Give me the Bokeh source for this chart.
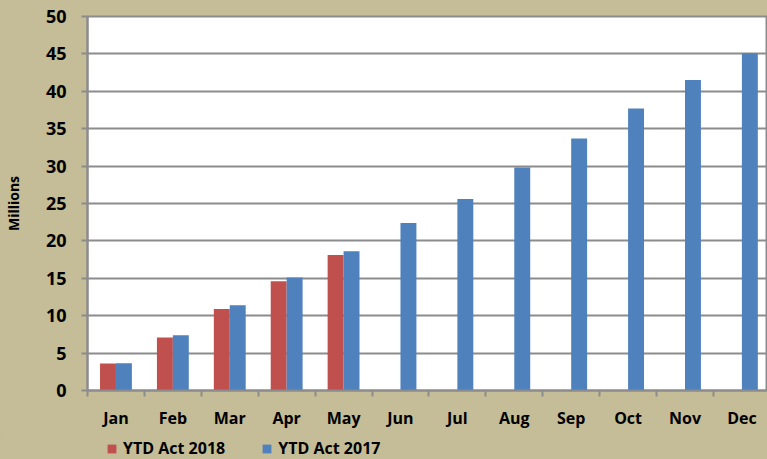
import numpy as np
from bokeh.plotting import figure
from bokeh.layouts import column
from bokeh.models import (Range1d, FixedTicker, Legend, LegendItem, ColumnDataSource)
from bokeh.embed import file_html
from bokeh.resources import INLINE

# ---- data ----
months = ["Jan", "Feb", "Mar", "Apr", "May", "Jun", "Jul", "Aug", "Sep", "Oct", "Nov", "Dec"]
ytd_2018 = [3.6, 7.1, 10.9, 14.6, 18.1]
ytd_2017 = [3.65, 7.4, 11.4, 15.1, 18.6, 22.4, 25.6, 29.8, 33.7, 37.7, 41.5, 45.1]
y_ticks = [0, 5, 10, 15, 20, 25, 30, 35, 40, 45, 50]
series_names = ["YTD Act 2018", "YTD Act 2017"]

BG = "#C4BD97"
RED = "#C0504D"
BLUE = "#4F81BD"
GRID = "#8C8C8C"
FONT = "Open Sans"

centers = [i + 0.5 for i in range(len(months))]
bounds = list(range(len(months) + 1))
bar_w = 0.28

src18 = ColumnDataSource(dict(x=[c - bar_w / 2 for c in centers[:len(ytd_2018)]], top=ytd_2018))
src17 = ColumnDataSource(dict(x=[c + bar_w / 2 for c in centers], top=ytd_2017))

# ---- main chart ----
p = figure(width=767, height=437, output_backend="svg", toolbar_location=None,
           x_range=Range1d(0, len(months) - 0.05), y_range=Range1d(y_ticks[0], y_ticks[-1]),
           min_border_left=86, min_border_right=0, min_border_top=16, min_border_bottom=47)

p.border_fill_color = BG
p.background_fill_color = "white"
p.outline_line_color = GRID
p.outline_line_width = 2

r18 = p.vbar(x="x", top="top", width=bar_w, source=src18, fill_color=RED, line_color=None)
r17 = p.vbar(x="x", top="top", width=bar_w, source=src17, fill_color=BLUE, line_color=None)

p.xgrid.visible = False
p.ygrid.ticker = FixedTicker(ticks=y_ticks)
p.ygrid.grid_line_color = GRID
p.ygrid.grid_line_width = 2

ya = p.yaxis[0]
ya.ticker = FixedTicker(ticks=y_ticks)
ya.axis_line_color = GRID
ya.axis_line_width = 2
ya.major_tick_line_color = GRID
ya.major_tick_line_width = 2
ya.major_tick_out = 6
ya.major_tick_in = 0
ya.minor_tick_line_color = None
ya.major_label_standoff = 15
ya.major_label_text_font = FONT
ya.major_label_text_font_style = "bold"
ya.major_label_text_font_size = "18px"
ya.major_label_text_color = "black"
ya.axis_label = "Millions"
ya.axis_label_text_font = FONT
ya.axis_label_text_font_style = "bold"
ya.axis_label_text_font_size = "14px"
ya.axis_label_text_color = "black"
ya.axis_label_standoff = 20

xa = p.xaxis[0]
xa.ticker = FixedTicker(ticks=centers, minor_ticks=bounds)
xa.major_label_overrides = {c: m for c, m in zip(centers, months)}
xa.axis_line_color = GRID
xa.axis_line_width = 2
xa.major_tick_line_color = None
xa.major_tick_out = 5
xa.major_tick_in = 0
xa.minor_tick_line_color = GRID
xa.minor_tick_line_width = 2
xa.minor_tick_out = 6
xa.minor_tick_in = 0
xa.major_label_standoff = 10
xa.major_label_text_font = FONT
xa.major_label_text_font_style = "bold"
xa.major_label_text_font_size = "16px"
xa.major_label_text_color = "black"

# ---- legend strip under the chart (same series, renderers hidden; only legend shown) ----
lp = figure(width=767, height=22, output_backend="svg", toolbar_location=None,
            x_range=Range1d(len(months) + 1, len(months) + 2), y_range=Range1d(y_ticks[0], y_ticks[-1]),
            x_axis_location=None, y_axis_location=None,
            min_border_left=0, min_border_right=0, min_border_top=0, min_border_bottom=0)
lp.grid.visible = False
lp.outline_line_color = None
lp.background_fill_color = None
lp.border_fill_color = BG
l18 = lp.vbar(x="x", top="top", width=bar_w, source=src18, fill_color=RED, line_color=None)
l17 = lp.vbar(x="x", top="top", width=bar_w, source=src17, fill_color=BLUE, line_color=None)
l18.visible = False
l17.visible = False

legend = Legend(items=[LegendItem(label=series_names[0], renderers=[l18]),
                       LegendItem(label=series_names[1], renderers=[l17])],
                orientation="horizontal", location=(19, 0), click_policy="none",
                inactive_fill_alpha=0,
                glyph_width=11, glyph_height=11, label_standoff=6, spacing=36,
                padding=0, margin=0, border_line_color=None, background_fill_alpha=0,
                label_text_font=FONT, label_text_font_style="bold",
                label_text_font_size="16px", label_text_color="black")
lp.add_layout(legend, "center")

page = column(p, lp, spacing=0)

template = """
{% block preamble %}<style>html, body { background: #C4BD97; margin: 0; padding: 0; overflow: hidden; }</style>{% endblock %}
"""
try:
    html = file_html(page, INLINE, template=template)
    if "data-root-id" not in html:
        raise ValueError("template failed")
except Exception:
    html = file_html(page, INLINE)
open("out.html", "w").write(html)
